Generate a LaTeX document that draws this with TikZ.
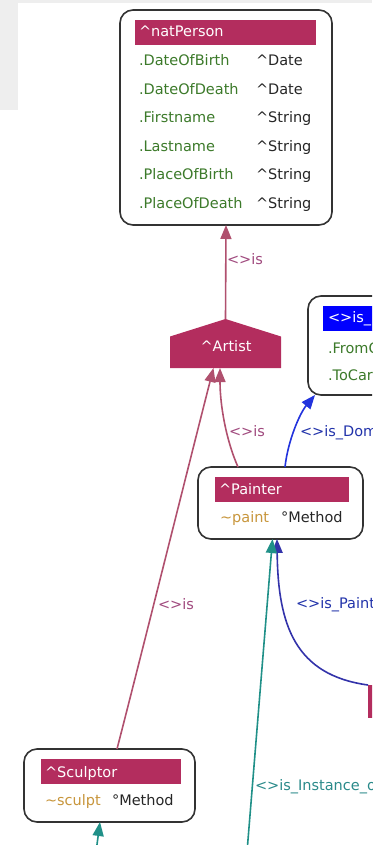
\documentclass[tikz,border=0pt]{standalone}
\usepackage{fontspec}
\setmainfont{DejaVu Sans}
\usetikzlibrary{arrows.meta}
\definecolor{clsred}{HTML}{B32D5E}
\definecolor{isline}{HTML}{B0506E}
\definecolor{islabel}{HTML}{A04A7E}
\definecolor{relblue}{HTML}{0000FF}
\definecolor{domline}{HTML}{2233DD}
\definecolor{ptline}{HTML}{3333AA}
\definecolor{bluelabel}{HTML}{2233AA}
\definecolor{teal2}{HTML}{209088}
\definecolor{teallabel}{HTML}{2A8A8A}
\definecolor{attrgreen}{HTML}{3C7A2A}
\definecolor{methorange}{HTML}{C8963C}
\definecolor{boxline}{HTML}{333333}
\definecolor{panelgray}{HTML}{EEEEEE}
\begin{document}
\begin{tikzpicture}[x=1pt,y=-1pt,
  every node/.style={inner sep=0pt,outer sep=0pt},
  txt/.style={font=\fontsize{14.5}{17}\selectfont,anchor=base west},
  attr/.style={txt,text=attrgreen},
  typ/.style={txt,text=black!85},
  hdrtxt/.style={txt,text=white},
  classbox/.style={draw=boxline,line width=1.6pt,rounded corners=13pt,fill=white},
  hdr/.style={fill=clsred},
  tip/.style={-{Triangle[length=14pt,width=11pt]}},
  isedge/.style={tip,draw=isline,line width=1.6pt},
  domedge/.style={tip,draw=domline,line width=1.6pt},
  ptedge/.style={tip,draw=ptline,line width=1.6pt},
  instedge/.style={tip,draw=teal2,line width=1.6pt},
]
\useasboundingbox (0,0) rectangle (372,845);
\begin{scope}
\clip (0,0) rectangle (372,845);
% background panels
\fill[panelgray] (0,0) rectangle (372,3);
\fill[panelgray] (0,0) rectangle (18,110);

% natPerson class
\node[classbox,minimum width=212pt,minimum height=215pt] (np) at (226,117.5) {};
\node[hdr,minimum width=181pt,minimum height=25pt] (nph) at (225.5,32.5) {};
\node[hdrtxt] (npt) at (139,37) {\textasciicircum natPerson};
\node[attr] (a1) at (139,66) {.DateOfBirth};
\node[typ]  (t1) at (256,66) {\textasciicircum Date};
\node[attr] (a2) at (139,94.4) {.DateOfDeath};
\node[typ]  (t2) at (256,94.4) {\textasciicircum Date};
\node[attr] (a3) at (139,122.8) {.Firstname};
\node[typ]  (t3) at (256,122.8) {\textasciicircum String};
\node[attr] (a4) at (139,151.2) {.Lastname};
\node[typ]  (t4) at (256,151.2) {\textasciicircum String};
\node[attr] (a5) at (139,179.6) {.PlaceOfBirth};
\node[typ]  (t5) at (256,179.6) {\textasciicircum String};
\node[attr] (a6) at (139,208) {.PlaceOfDeath};
\node[typ]  (t6) at (256,208) {\textasciicircum String};

% Artist (house shape)
\node[minimum width=111pt,minimum height=49pt] (ar) at (225.5,343.5) {};
\fill[clsred] (ar.south west) -- ([yshift=-17.5pt]ar.north west) -- (ar.north)
  -- ([yshift=-17.5pt]ar.north east) -- (ar.south east) -- cycle;
\node[hdrtxt,anchor=base] (art) at (226,351) {\textasciicircum Artist};

% relation class on the right
\node[classbox,minimum width=212pt,minimum height=99pt] (dm) at (414,345.5) {};
\node[fill=relblue,minimum width=182pt,minimum height=25pt] (dmh) at (414,318.5) {};
\node[hdrtxt] (dmt) at (328,322) {<>is\_};
\node[attr] (dm1) at (328,353) {.FromC};
\node[attr] (dm2) at (328,380.5) {.ToCar};

% Painter class
\node[classbox,minimum width=165pt,minimum height=72pt] (pa) at (280.5,503) {};
\node[hdr,minimum width=134pt,minimum height=25pt] (pah) at (282,489.5) {};
\node[hdrtxt] (pat) at (219,494) {\textasciicircum Painter};
\node[txt,text=methorange] (pam) at (220,522) {\textasciitilde paint};
\node[typ] (pat2) at (281,522) {°Method};

% Sculptor class
\node[classbox,minimum width=171pt,minimum height=73pt] (sc) at (109.5,785.5) {};
\node[hdr,minimum width=140pt,minimum height=25pt] (sch) at (111,771.5) {};
\node[hdrtxt] (sct) at (45,777) {\textasciicircum Sculptor};
\node[txt,text=methorange] (scm) at (45,805) {\textasciitilde sculpt};
\node[typ] (sct2) at (112,805) {°Method};

% partly visible class at the lower right
\node[fill=clsred,minimum width=92pt,minimum height=33pt] (bp) at (414,701.5) {};

% free ends of the instance connectors
\coordinate (ti) at (247,852);
\coordinate (ts) at (96,852);

% connectors
\draw[isedge] (ar.north) -- (np.south);
\node[txt,text=islabel] (l1) at (227,264) {<>is};

\draw[isedge] ([xshift=-42.5pt]pa.north) .. controls (226,440) and (220,405) .. ([xshift=-5.5pt]ar.south);
\node[txt,text=islabel] (l2) at (229,436) {<>is};

\draw[isedge] ([xshift=7.5pt]sc.north) .. controls (140,660) and (195,440) .. ([xshift=-12pt]ar.south);
\node[txt,text=islabel] (l3) at (158,609) {<>is};

\draw[domedge] ([xshift=4.5pt]pa.north) .. controls (288,440) and (300,413) .. ([xshift=7pt]dm.south west);
\node[txt,text=bluelabel] (l4) at (300,436) {<>is\_Dom};

\draw[ptedge] (bp.north west) .. controls (295,675) and (278,625) .. ([xshift=-3.5pt]pa.south);
\node[txt,text=bluelabel] (l5) at (296,608) {<>is\_Painti};

\draw[instedge] (ti) -- ([xshift=-8pt]pa.south);
\node[txt,text=teallabel] (l6) at (255,790) {<>is\_Instance\_o};

\draw[instedge] (ts) -- ([xshift=-9.5pt]sc.south);
\end{scope}
\end{tikzpicture}
\end{document}
